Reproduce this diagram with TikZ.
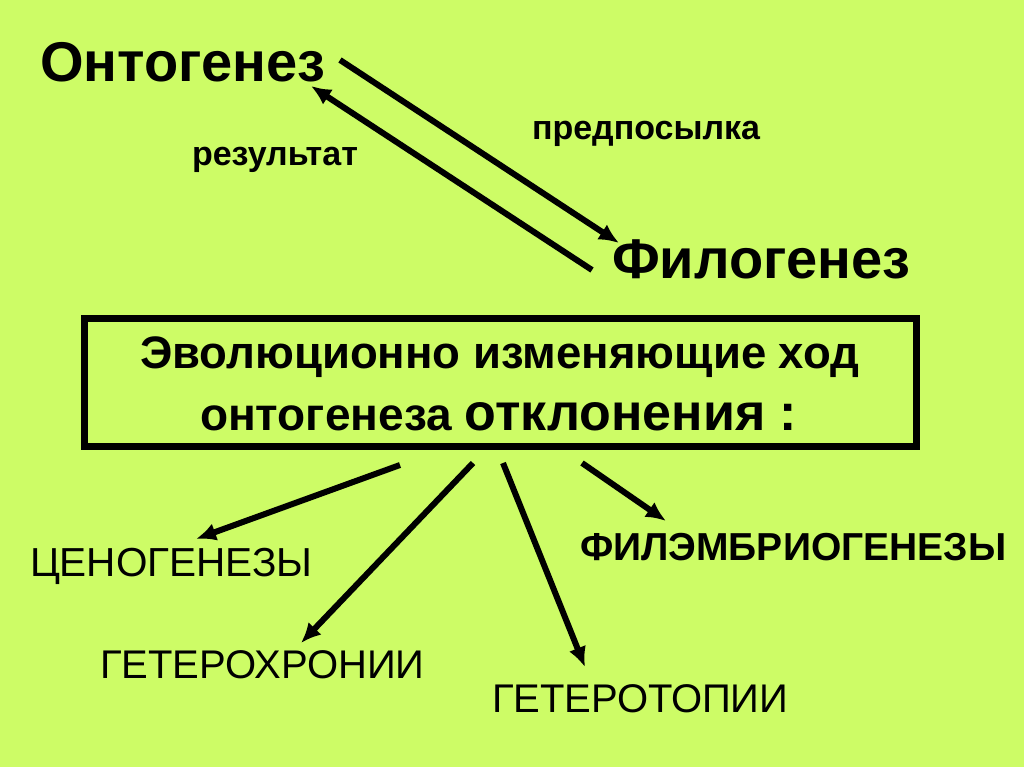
\documentclass[tikz,border=0pt]{standalone}
\usepackage{fontspec}
\setmainfont{Liberation Sans}
\usetikzlibrary{arrows.meta}
\definecolor{bg}{RGB}{205,252,102}
\begin{document}
\begin{tikzpicture}[x=1pt,y=-1pt,
  lbl/.style={anchor=base west, inner sep=0pt, outer sep=0pt, text=black},
  big/.style={font=\fontsize{56}{60}\selectfont\bfseries},
  mid/.style={font=\fontsize{34}{38}\selectfont\bfseries},
  reg/.style={font=\fontsize{40}{44}\selectfont},
  arr/.style={line width=6pt, -{Latex[length=20pt,width=18pt]}}]
\fill[bg] (0,0) rectangle (1024,767);
\useasboundingbox (0,0) rectangle (1024,767);

% top labels
\node[lbl, big] (onto) at (40,82) {Онтогенез};
\node[lbl, big] (filo) at (612,278) {Филогенез};
\node[lbl, mid] (res) at (192,166) {результат};
\node[lbl, mid] (pred) at (532,140) {предпосылка};

% box
\node[draw, line width=7pt, minimum width=832pt, minimum height=128pt, inner sep=0pt] (box) at (500,382) {};
\node[lbl, font=\fontsize{45.5}{48}\selectfont\bfseries] (l1) at (140,368) {Эволюционно изменяющие ход};
\node[lbl, font=\fontsize{46}{48}\selectfont\bfseries] (l2) at (200,430) {онтогенеза {\fontsize{52}{54}\selectfont отклонения :}};

% bottom labels
\node[lbl, font=\fontsize{40.5}{44}\selectfont] (ceno) at (30,576) {ЦЕНОГЕНЕЗЫ};
\node[lbl, font=\fontsize{39}{42}\selectfont\bfseries] (filem) at (580,560) {ФИЛЭМБРИОГЕНЕЗЫ};
\node[lbl, reg] (hchr) at (100,678) {ГЕТЕРОХРОНИИ};
\node[lbl, reg] (htop) at (492,712) {ГЕТЕРОТОПИИ};

% arrow end points
\coordinate (a1s) at (340,60);  \coordinate (a1e) at (619,243);
\coordinate (a2s) at (592,270); \coordinate (a2e) at (311,86);
\coordinate (b1s) at (400,465); \coordinate (b1e) at (196,539);
\coordinate (b2s) at (473,463); \coordinate (b2e) at (301,643);
\coordinate (b3s) at (503,463); \coordinate (b3e) at (585,667);
\coordinate (b4s) at (582,463); \coordinate (b4e) at (666,521);

\draw[arr] (a1s) -- (a1e);
\draw[arr] (a2s) -- (a2e);
\draw[arr] (b1s) -- (b1e);
\draw[arr] (b2s) -- (b2e);
\draw[arr] (b3s) -- (b3e);
\draw[arr] (b4s) -- (b4e);
\end{tikzpicture}
\end{document}
